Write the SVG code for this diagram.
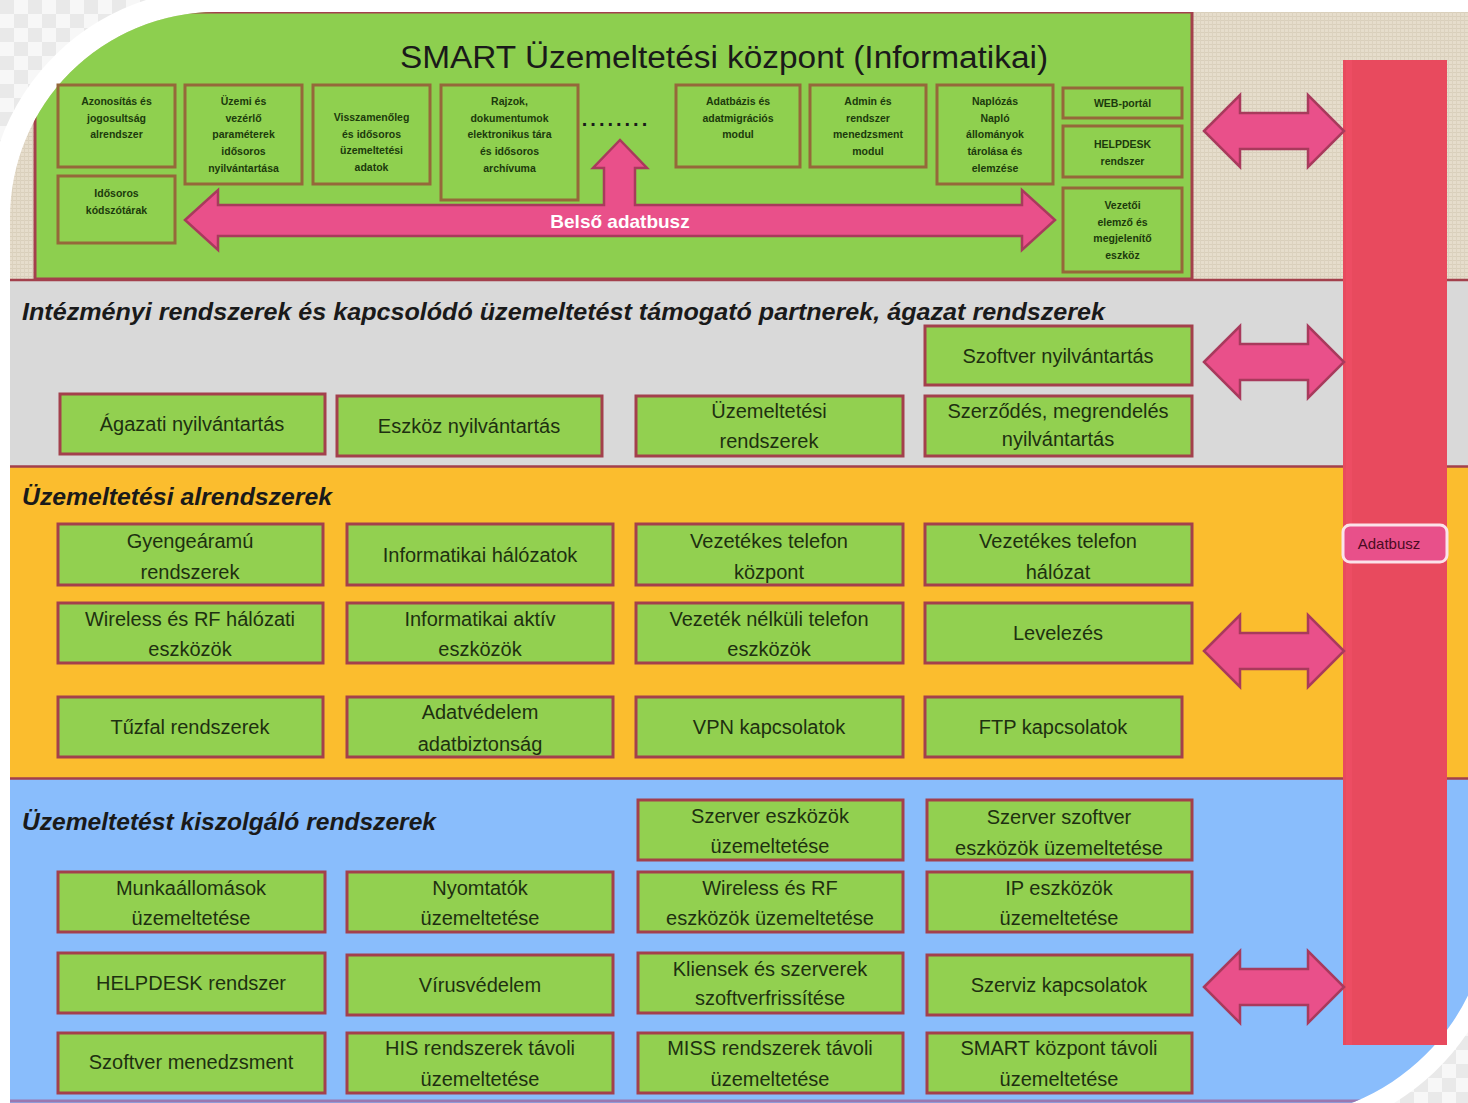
<svg xmlns="http://www.w3.org/2000/svg" width="1468" height="1103" viewBox="0 0 1468 1103">
<defs>
<pattern id="chk" width="28" height="28" patternUnits="userSpaceOnUse">
<rect width="28" height="28" fill="#f7f7f7"/>
<rect width="14" height="14" fill="#e9e9e9"/>
<rect x="14" y="14" width="14" height="14" fill="#e9e9e9"/>
</pattern>
<pattern id="linen" width="4" height="4" patternUnits="userSpaceOnUse">
<rect width="4" height="4" fill="#e6ddcc"/>
<rect width="4" height="1" fill="#d9cfbb"/>
<rect width="1" height="4" fill="#dcd2bf"/>
</pattern>
<clipPath id="frame">
<path d="M10,218 A206,206 0 0 1 216,12 H1490 V900 A218,218 0 0 1 1270,1118 H10 Z"/>
</clipPath>
<style>
.n{fill:#92d050;stroke:#a3404c;stroke-width:3}
.s{fill:#8fd04f;stroke:#95683a;stroke-width:3}
.t{font-family:"Liberation Sans",Arial,sans-serif;font-size:20px;fill:#1e3010;text-anchor:middle}
.st{font-family:"Liberation Sans",Arial,sans-serif;font-size:10.5px;font-weight:bold;fill:#1c3a0c;text-anchor:middle}
.h{font-family:"Liberation Sans",Arial,sans-serif;font-weight:bold;font-style:italic;font-size:23px;fill:#1a1a1a}
.arr{fill:#e9508a;stroke:#a83a5c;stroke-width:2.5;stroke-linejoin:miter}
</style>
</defs>

<rect width="1468" height="1103" fill="#ffffff"/>
<path d="M0,0 H146 A229,229 0 0 0 0,142 Z" fill="url(#chk)"/>
<path d="M1468,1103 V1032 A238,238 0 0 1 1394,1103 Z" fill="url(#chk)"/>

<g clip-path="url(#frame)">
<rect x="0" y="0" width="1468" height="282" fill="url(#linen)"/>
<rect x="35" y="12" width="1157" height="267" fill="#8dcf4f" stroke="#a3404c" stroke-width="3"/>
<rect x="0" y="280" width="1500" height="186" fill="#d9d9d9"/>
<line x1="0" y1="280" x2="1500" y2="280" stroke="#a3404c" stroke-width="2.5"/>
<rect x="0" y="467" width="1500" height="311" fill="#fbbd2e"/>
<line x1="0" y1="466.5" x2="1500" y2="466.5" stroke="#a3404c" stroke-width="2.5"/>
<rect x="0" y="779" width="1500" height="340" fill="#89bdfc"/>
<line x1="0" y1="778.5" x2="1500" y2="778.5" stroke="#a3404c" stroke-width="2.5"/>
<line x1="0" y1="1101" x2="1500" y2="1101" stroke="#9a78b0" stroke-width="3"/>
</g>

<text x="724" y="68" font-family="'Liberation Sans',Arial,sans-serif" font-size="31" fill="#1a1a1a" text-anchor="middle" textLength="648" lengthAdjust="spacingAndGlyphs">SMART Üzemeltetési központ (Informatikai)</text>

<g id="top-nodes">
<g id="t1"><rect class="s" x="58" y="85" width="117" height="82"/><text class="st" x="116.5" y="105"><tspan x="116.5">Azonosítás és</tspan><tspan x="116.5" dy="16.7">jogosultság</tspan><tspan x="116.5" dy="16.7">alrendszer</tspan></text></g>
<g id="t2"><rect class="s" x="185" y="85" width="117" height="99"/><text class="st" x="243.5" y="105"><tspan x="243.5">Üzemi és</tspan><tspan x="243.5" dy="16.7">vezérlő</tspan><tspan x="243.5" dy="16.7">paraméterek</tspan><tspan x="243.5" dy="16.7">idősoros</tspan><tspan x="243.5" dy="16.7">nyilvántartása</tspan></text></g>
<g id="t3"><rect class="s" x="313" y="85" width="117" height="99"/><text class="st" x="371.5" y="121"><tspan x="371.5">Visszamenőleg</tspan><tspan x="371.5" dy="16.7">és idősoros</tspan><tspan x="371.5" dy="16.7">üzemeltetési</tspan><tspan x="371.5" dy="16.7">adatok</tspan></text></g>
<g id="t4"><rect class="s" x="441" y="85" width="137" height="115"/><text class="st" x="509.5" y="105"><tspan x="509.5">Rajzok,</tspan><tspan x="509.5" dy="16.7">dokumentumok</tspan><tspan x="509.5" dy="16.7">elektronikus tára</tspan><tspan x="509.5" dy="16.7">és idősoros</tspan><tspan x="509.5" dy="16.7">archívuma</tspan></text></g>
<g id="t5"><rect class="s" x="676" y="85" width="124" height="82"/><text class="st" x="738" y="105"><tspan x="738">Adatbázis és</tspan><tspan x="738" dy="16.7">adatmigrációs</tspan><tspan x="738" dy="16.7">modul</tspan></text></g>
<g id="t6"><rect class="s" x="810" y="85" width="116" height="82"/><text class="st" x="868" y="105"><tspan x="868">Admin és</tspan><tspan x="868" dy="16.7">rendszer</tspan><tspan x="868" dy="16.7">menedzsment</tspan><tspan x="868" dy="16.7">modul</tspan></text></g>
<g id="t7"><rect class="s" x="937" y="85" width="116" height="99"/><text class="st" x="995" y="105"><tspan x="995">Naplózás</tspan><tspan x="995" dy="16.7">Napló</tspan><tspan x="995" dy="16.7">állományok</tspan><tspan x="995" dy="16.7">tárolása és</tspan><tspan x="995" dy="16.7">elemzése</tspan></text></g>
<g id="t8"><rect class="s" x="1063" y="88" width="119" height="30"/><text class="st" x="1122.5" y="107">WEB-portál</text></g>
<g id="t9"><rect class="s" x="1063" y="126" width="119" height="51"/><text class="st" x="1122.5" y="148"><tspan x="1122.5">HELPDESK</tspan><tspan x="1122.5" dy="16.7">rendszer</tspan></text></g>
<g id="t10"><rect class="s" x="1063" y="188" width="119" height="84"/><text class="st" x="1122.5" y="209"><tspan x="1122.5">Vezetői</tspan><tspan x="1122.5" dy="16.7">elemző és</tspan><tspan x="1122.5" dy="16.7">megjelenítő</tspan><tspan x="1122.5" dy="16.7">eszköz</tspan></text></g>
<g id="t11"><rect class="s" x="58" y="176" width="117" height="67"/><text class="st" x="116.5" y="197"><tspan x="116.5">Idősoros</tspan><tspan x="116.5" dy="16.7">kódszótárak</tspan></text></g>
<text x="616" y="126" font-family="'Liberation Sans',Arial,sans-serif" font-size="20" font-weight="bold" fill="#1a1a1a" text-anchor="middle" letter-spacing="3">........</text>
</g>

<g id="adatbusz">
<rect x="1343" y="60" width="104" height="985" fill="#e84a5e"/>
<rect x="1346" y="60" width="6" height="985" fill="#f05068" opacity="0.6"/>
<g id="adatbusz-label">
<rect x="1343" y="525" width="104" height="37" rx="7" fill="#e8508a" stroke="#fbe3ea" stroke-width="3"/>
<text x="1389" y="549" font-family="'Liberation Sans',Arial,sans-serif" font-size="15" fill="#4a0b22" text-anchor="middle">Adatbusz</text>
</g>
</g>

<g id="connectors">
<path class="arr" d="M185,220 L218,190 L218,205 L604,205 L604,168 L593,168 L620,140 L647,168 L635,168 L635,205 L1022,205 L1022,190 L1055,220 L1022,250 L1022,236 L218,236 L218,250 Z"/>
<text x="620" y="228" font-family="'Liberation Sans',Arial,sans-serif" font-size="19" font-weight="bold" fill="#ffffff" text-anchor="middle">Belső adatbusz</text>
<path class="arr" d="M1204,131 L1240,95 L1240,113 L1308,113 L1308,95 L1344,131 L1308,167 L1308,149 L1240,149 L1240,167 Z"/>
<path class="arr" d="M1204,362 L1240,326 L1240,344 L1308,344 L1308,326 L1344,362 L1308,398 L1308,380 L1240,380 L1240,398 Z"/>
<path class="arr" d="M1204,651 L1240,615 L1240,633 L1308,633 L1308,615 L1344,651 L1308,687 L1308,669 L1240,669 L1240,687 Z"/>
<path class="arr" d="M1204,987 L1240,951 L1240,969 L1308,969 L1308,951 L1344,987 L1308,1023 L1308,1005 L1240,1005 L1240,1023 Z"/>
</g>

<text class="h" x="22" y="320" textLength="1083" lengthAdjust="spacingAndGlyphs">Intézményi rendszerek és  kapcsolódó  üzemeltetést támogató partnerek, ágazat rendszerek</text>
<text class="h" x="22" y="505" textLength="310" lengthAdjust="spacingAndGlyphs">Üzemeltetési alrendszerek</text>
<text class="h" x="22" y="830" textLength="414" lengthAdjust="spacingAndGlyphs">Üzemeltetést kiszolgáló rendszerek</text>

<g id="g-szoftver"><rect class="n" x="925" y="326" width="267" height="59"/><text class="t" x="1058" y="363">Szoftver nyilvántartás</text></g>
<g id="g-agazati"><rect class="n" x="60" y="394" width="265" height="60"/><text class="t" x="192" y="431">Ágazati nyilvántartás</text></g>
<g id="g-eszkoz"><rect class="n" x="337" y="396" width="265" height="60"/><text class="t" x="469" y="433">Eszköz nyilvántartás</text></g>
<g id="g-uzem"><rect class="n" x="636" y="396" width="267" height="60"/><text class="t" x="769" y="418"><tspan x="769">Üzemeltetési</tspan><tspan x="769" dy="30">rendszerek</tspan></text></g>
<g id="g-szerzodes"><rect class="n" x="925" y="396" width="267" height="60"/><text class="t" x="1058" y="418"><tspan x="1058">Szerződés, megrendelés</tspan><tspan x="1058" dy="28">nyilvántartás</tspan></text></g>

<g id="o-gyenge"><rect class="n" x="58" y="524" width="265" height="61"/><text class="t" x="190" y="548"><tspan x="190">Gyengeáramú</tspan><tspan x="190" dy="31">rendszerek</tspan></text></g>
<g id="o-infhal"><rect class="n" x="347" y="524" width="266" height="61"/><text class="t" x="480" y="562">Informatikai hálózatok</text></g>
<g id="o-vtkozp"><rect class="n" x="636" y="524" width="267" height="61"/><text class="t" x="769" y="548"><tspan x="769">Vezetékes telefon</tspan><tspan x="769" dy="31">központ</tspan></text></g>
<g id="o-vthal"><rect class="n" x="925" y="524" width="267" height="61"/><text class="t" x="1058" y="548"><tspan x="1058">Vezetékes telefon</tspan><tspan x="1058" dy="31">hálózat</tspan></text></g>

<g id="o-wireless"><rect class="n" x="58" y="603" width="265" height="60"/><text class="t" x="190" y="626"><tspan x="190">Wireless és RF hálózati</tspan><tspan x="190" dy="30">eszközök</tspan></text></g>
<g id="o-infakt"><rect class="n" x="347" y="603" width="266" height="60"/><text class="t" x="480" y="626"><tspan x="480">Informatikai aktív</tspan><tspan x="480" dy="30">eszközök</tspan></text></g>
<g id="o-vnelk"><rect class="n" x="636" y="603" width="267" height="60"/><text class="t" x="769" y="626"><tspan x="769">Vezeték nélküli telefon</tspan><tspan x="769" dy="30">eszközök</tspan></text></g>
<g id="o-level"><rect class="n" x="925" y="603" width="267" height="60"/><text class="t" x="1058" y="640">Levelezés</text></g>

<g id="o-tuzfal"><rect class="n" x="58" y="697" width="265" height="60"/><text class="t" x="190" y="734">Tűzfal rendszerek</text></g>
<g id="o-adatved"><rect class="n" x="347" y="697" width="266" height="60"/><text class="t" x="480" y="719"><tspan x="480">Adatvédelem</tspan><tspan x="480" dy="32">adatbiztonság</tspan></text></g>
<g id="o-vpn"><rect class="n" x="636" y="697" width="267" height="60"/><text class="t" x="769" y="734">VPN kapcsolatok</text></g>
<g id="o-ftp"><rect class="n" x="925" y="697" width="257" height="60"/><text class="t" x="1053" y="734">FTP kapcsolatok</text></g>

<g id="b-szerver"><rect class="n" x="638" y="800" width="265" height="60"/><text class="t" x="770" y="823"><tspan x="770">Szerver eszközök</tspan><tspan x="770" dy="30">üzemeltetése</tspan></text></g>
<g id="b-szszoft"><rect class="n" x="927" y="800" width="265" height="60"/><text class="t" x="1059" y="824"><tspan x="1059">Szerver szoftver</tspan><tspan x="1059" dy="31">eszközök üzemeltetése</tspan></text></g>

<g id="b-munka"><rect class="n" x="58" y="872" width="267" height="60"/><text class="t" x="191" y="895"><tspan x="191">Munkaállomások</tspan><tspan x="191" dy="30">üzemeltetése</tspan></text></g>
<g id="b-nyomt"><rect class="n" x="347" y="872" width="266" height="60"/><text class="t" x="480" y="895"><tspan x="480">Nyomtatók</tspan><tspan x="480" dy="30">üzemeltetése</tspan></text></g>
<g id="b-wrf"><rect class="n" x="638" y="872" width="265" height="60"/><text class="t" x="770" y="895"><tspan x="770">Wireless és RF</tspan><tspan x="770" dy="30">eszközök üzemeltetése</tspan></text></g>
<g id="b-ip"><rect class="n" x="927" y="872" width="265" height="60"/><text class="t" x="1059" y="895"><tspan x="1059">IP eszközök</tspan><tspan x="1059" dy="30">üzemeltetése</tspan></text></g>

<g id="b-helpdesk"><rect class="n" x="58" y="953" width="267" height="60"/><text class="t" x="191" y="990">HELPDESK rendszer</text></g>
<g id="b-virus"><rect class="n" x="347" y="955" width="266" height="60"/><text class="t" x="480" y="992">Vírusvédelem</text></g>
<g id="b-kliens"><rect class="n" x="638" y="953" width="265" height="60"/><text class="t" x="770" y="976"><tspan x="770">Kliensek és szerverek</tspan><tspan x="770" dy="29">szoftverfrissítése</tspan></text></g>
<g id="b-szerviz"><rect class="n" x="927" y="955" width="265" height="60"/><text class="t" x="1059" y="992">Szerviz kapcsolatok</text></g>

<g id="b-szmen"><rect class="n" x="58" y="1033" width="267" height="60"/><text class="t" x="191" y="1069">Szoftver menedzsment</text></g>
<g id="b-his"><rect class="n" x="347" y="1033" width="266" height="60"/><text class="t" x="480" y="1055"><tspan x="480">HIS rendszerek távoli</tspan><tspan x="480" dy="31">üzemeltetése</tspan></text></g>
<g id="b-miss"><rect class="n" x="638" y="1033" width="265" height="60"/><text class="t" x="770" y="1055"><tspan x="770">MISS rendszerek távoli</tspan><tspan x="770" dy="31">üzemeltetése</tspan></text></g>
<g id="b-smart"><rect class="n" x="927" y="1033" width="265" height="60"/><text class="t" x="1059" y="1055"><tspan x="1059">SMART központ távoli</tspan><tspan x="1059" dy="31">üzemeltetése</tspan></text></g>
</svg>
